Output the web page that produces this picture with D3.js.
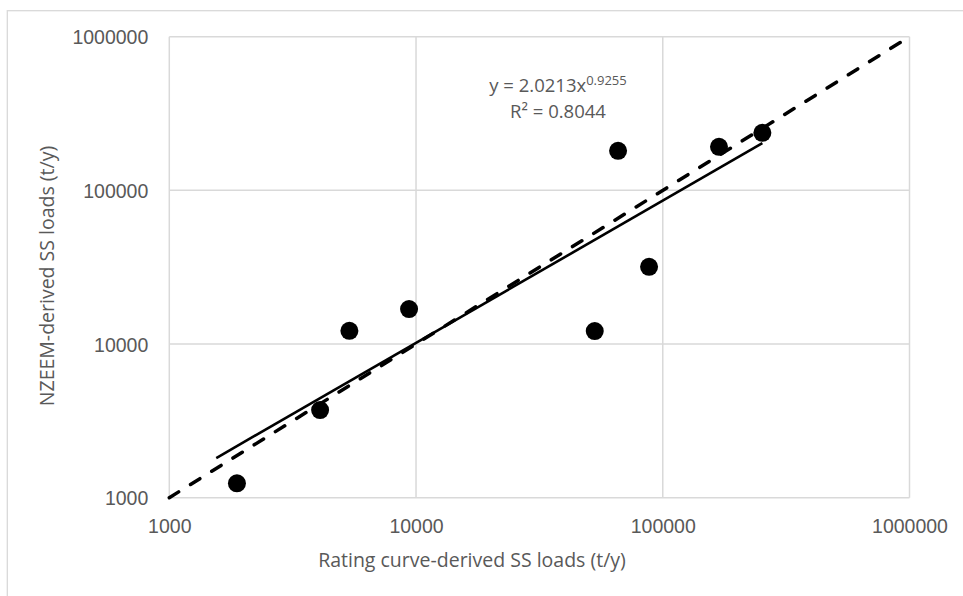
<!DOCTYPE html>
<html>
<head>
<meta charset="utf-8">
<script src="https://cdn.jsdelivr.net/npm/d3@7"></script>
<style>
  body { margin: 0; background: #fff; }
  svg { display: block; font-family: "Open Sans", sans-serif; }
  .grid line { stroke: #d9d9d9; stroke-width: 1.5px; }
  .axis text { fill: #595959; font-size: 19.5px; }
  .axis path, .axis line { display: none; }
  .title { fill: #595959; font-size: 19.5px; }
  .fit-label { fill: #595959; font-size: 18.5px; }
</style>
</head>
<body>
<svg id="chart" width="963" height="596"></svg>
<script>
// rating curve-derived (x) vs NZEEM-derived (y) SS loads, t/y
const ratingLoads = [1880, 4085, 5370, 9370, 53000, 88000, 65900, 169000, 253300];
const nzeemLoads  = [1240, 3720, 12200, 16900, 12150, 31800, 181000, 192000, 237000];

const tickValues = [1000, 10000, 100000, 1000000];

// power trendline as shown on the chart, y = a * x^b
const trendA = 2.0213;
const trendB = 0.9255;
const trendR2 = 0.8044;
const trendXRange = [1550, 253300];

// 1:1 reference line
const oneToOne = [1000, 1000000];

const svg = d3.select('#chart');

const plot = { left: 169.3, right: 909.5, top: 36.7, bottom: 497.7 };

const xScale = d3.scaleLog().domain([1000, 1000000]).range([plot.left, plot.right]);
const yScale = d3.scaleLog().domain([1000, 1000000]).range([plot.bottom, plot.top]);

// outer chart frame
svg.append('rect')
  .attr('x', 7.3)
  .attr('y', 10.7)
  .attr('width', 1000)
  .attr('height', 1000)
  .attr('fill', 'none')
  .attr('stroke', '#d9d9d9')
  .attr('stroke-width', 1.3);

// gridlines (the outer ones double as plot border)
const grid = svg.append('g').attr('class', 'grid');
grid.selectAll('.gx')
  .data(tickValues)
  .enter()
  .append('line')
  .attr('class', 'gx')
  .attr('x1', d => xScale(d))
  .attr('x2', d => xScale(d))
  .attr('y1', plot.top)
  .attr('y2', plot.bottom);
grid.selectAll('.gy')
  .data(tickValues)
  .enter()
  .append('line')
  .attr('class', 'gy')
  .attr('y1', d => yScale(d))
  .attr('y2', d => yScale(d))
  .attr('x1', plot.left)
  .attr('x2', plot.right);

// axes, labels only
const xAxis = svg.append('g')
  .attr('class', 'axis')
  .attr('transform', `translate(0,${plot.bottom})`)
  .call(d3.axisBottom(xScale).tickValues(tickValues).tickFormat(d3.format('d')).tickSize(0));
xAxis.selectAll('text').attr('y', 35).attr('dy', null);

const yAxis = svg.append('g')
  .attr('class', 'axis')
  .attr('transform', `translate(${plot.left},0)`)
  .call(d3.axisLeft(yScale).tickValues(tickValues).tickFormat(d3.format('d')).tickSize(0));
yAxis.selectAll('text').attr('x', -21).attr('dy', '0.36em');

const line = d3.line()
  .x(d => xScale(d[0]))
  .y(d => yScale(d[1]));

// 1:1 dashed line
svg.append('path')
  .datum(oneToOne.map(v => [v, v]))
  .attr('d', line)
  .attr('fill', 'none')
  .attr('stroke', '#000')
  .attr('stroke-width', 3.5)
  .attr('stroke-linecap', 'round')
  .attr('stroke-dasharray', '11,14');

// power trendline
svg.append('path')
  .datum(trendXRange.map(x => [x, trendA * Math.pow(x, trendB)]))
  .attr('d', line)
  .attr('fill', 'none')
  .attr('stroke', '#000')
  .attr('stroke-width', 2.6);

// points
svg.append('g')
  .selectAll('circle')
  .data(ratingLoads.map((x, i) => ({ x, y: nzeemLoads[i] })))
  .enter()
  .append('circle')
  .attr('cx', d => xScale(d.x))
  .attr('cy', d => yScale(d.y))
  .attr('r', 9)
  .attr('fill', '#000');

// trendline label
const eq = svg.append('text')
  .attr('class', 'fit-label')
  .attr('x', 558)
  .attr('y', 91.7)
  .attr('text-anchor', 'middle');
eq.append('tspan').text(`y = ${trendA}x`);
eq.append('tspan').attr('font-size', 13).attr('dy', -7).text(trendB);

svg.append('text')
  .attr('class', 'fit-label')
  .attr('x', 558)
  .attr('y', 118.3)
  .attr('text-anchor', 'middle')
  .text(`R² = ${trendR2}`);

// axis titles
svg.append('text')
  .attr('class', 'title')
  .attr('x', 472)
  .attr('y', 566.7)
  .attr('text-anchor', 'middle')
  .text('Rating curve-derived SS loads (t/y)');

svg.append('text')
  .attr('class', 'title')
  .attr('transform', 'translate(54,276) rotate(-90)')
  .attr('text-anchor', 'middle')
  .text('NZEEM-derived SS loads (t/y)');
</script>
</body>
</html>
